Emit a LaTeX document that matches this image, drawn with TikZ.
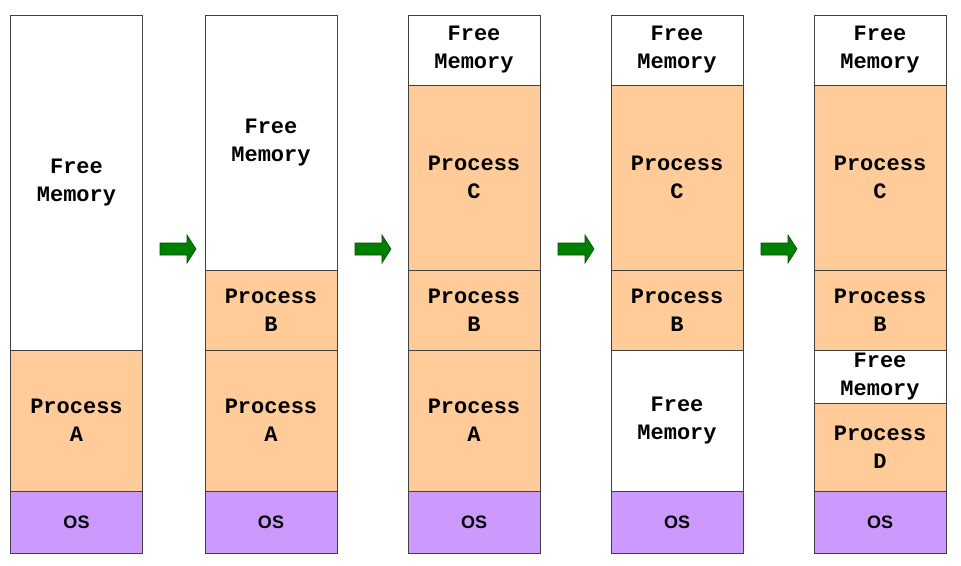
\documentclass[tikz,border=0pt]{standalone}
\usepackage{fontspec}
\newfontfamily\monob{Liberation Mono}[BoldFont={* Bold}]
\newfontfamily\sansb{Liberation Sans}[BoldFont={* Bold}]
\definecolor{procfill}{HTML}{FFCC99}
\definecolor{osfill}{HTML}{CC99FF}
\definecolor{arrowfill}{HTML}{008000}
\definecolor{arrowline}{HTML}{004D00}

\tikzstyle{block}=[rectangle,draw=black!75,line width=0.9pt,minimum width=132pt,inner sep=0pt,align=center,font=\monob\bfseries\fontsize{22}{28}\selectfont]
\tikzstyle{free}=[block,fill=white]
\tikzstyle{proc}=[block,fill=procfill]
\tikzstyle{os}=[block,fill=osfill,font=\sansb\bfseries\fontsize{18}{22}\selectfont]
\tikzstyle{step arrow}=[draw=arrowline,fill=arrowfill,line width=0.6pt]

\begin{document}
\begin{tikzpicture}[x=1pt, y=-1pt]
		\useasboundingbox (0,0) rectangle (961,565);
		% column 1
		\node [free, minimum height=335pt] (free1)  at (76.5,182.5) {Free\\Memory};
		\node [proc, minimum height=141pt] (procA1) at (76.5,420.5) {Process\\A};
		\node [os,   minimum height=62pt]  (os1)    at (76.5,522)   {OS};
		% column 2
		\node [free, minimum height=255pt] (free2)  at (271,142.5) {Free\\Memory};
		\node [proc, minimum height=80pt]  (procB2) at (271,310)   {Process\\B};
		\node [proc, minimum height=141pt] (procA2) at (271,420.5) {Process\\A};
		\node [os,   minimum height=62pt]  (os2)    at (271,522)   {OS};
		% column 3
		\node [free, minimum height=70pt]  (free3)  at (474,50)    {Free\\Memory};
		\node [proc, minimum height=185pt] (procC3) at (474,177.5) {Process\\C};
		\node [proc, minimum height=80pt]  (procB3) at (474,310)   {Process\\B};
		\node [proc, minimum height=141pt] (procA3) at (474,420.5) {Process\\A};
		\node [os,   minimum height=62pt]  (os3)    at (474,522)   {OS};
		% column 4
		\node [free, minimum height=70pt]  (free4)  at (677,50)    {Free\\Memory};
		\node [proc, minimum height=185pt] (procC4) at (677,177.5) {Process\\C};
		\node [proc, minimum height=80pt]  (procB4) at (677,310)   {Process\\B};
		\node [free, minimum height=141pt] (hole4)  at (677,420.5) {Free\\Memory};
		\node [os,   minimum height=62pt]  (os4)    at (677,522)   {OS};
		% column 5
		\node [free, minimum height=70pt]  (free5)  at (880,50)    {Free\\Memory};
		\node [proc, minimum height=185pt] (procC5) at (880,177.5) {Process\\C};
		\node [proc, minimum height=80pt]  (procB5) at (880,310)   {Process\\B};
		\node [free, minimum height=53pt]  (hole5)  at (880,376.5) {Free\\Memory};
		\node [proc, minimum height=88pt]  (procD5) at (880,447)   {Process\\D};
		\node [os,   minimum height=62pt]  (os5)    at (880,522)   {OS};

		% arrows between the columns
		\foreach \x in {160,355,558,761}
			\draw [step arrow] (\x,243) -- ++(27,0) -- ++(0,-8) -- ++(9,14)
				-- ++(-9,14) -- ++(0,-8) -- ++(-27,0) -- cycle;
	\end{tikzpicture}
\end{document}
